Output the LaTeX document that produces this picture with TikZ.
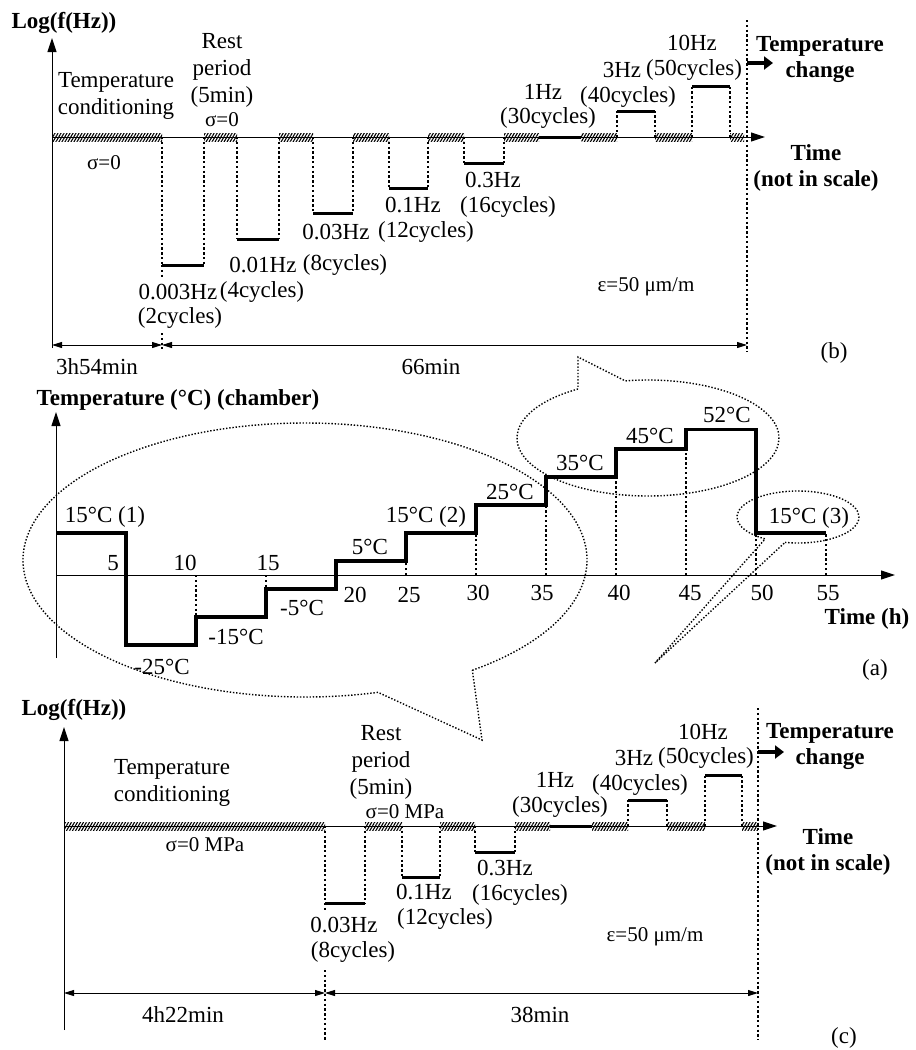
\documentclass[tikz,border=0pt]{standalone}
\usepackage{fontspec}
\setmainfont{Liberation Serif}
\usetikzlibrary{arrows.meta,patterns.meta}

\tikzset{
  lbl/.style={inner sep=0pt, font=\fontsize{23}{27}\selectfont, align=center},
  lblb/.style={lbl, font=\fontsize{23}{26}\selectfont\bfseries},
  lbls/.style={inner sep=0pt, font=\fontsize{21}{24}\selectfont},
  axisline/.style={line width=1pt, -{Triangle[length=14pt,width=9pt]}},
  dimline/.style={line width=0.9pt, {Triangle[length=10pt,width=6pt]}-{Triangle[length=10pt,width=6pt]}},
  dotside/.style={line width=2.4pt, dash pattern=on 2.4pt off 2.4pt},
  levelbar/.style={line width=3pt},
  stepline/.style={line width=3.2pt, line join=miter},
  hatchbar/.style={pattern={Lines[angle=60,distance=2.6pt,line width=1.1pt]}},
  bubble/.style={line width=1.4pt, dash pattern=on 1.4pt off 1.8pt},
  bigarrow/.style={line width=4.5pt, -{Triangle[length=9pt,width=13pt]}}
}

\begin{document}
\begin{tikzpicture}[x=1pt,y=-1pt]
\useasboundingbox (0,0) rectangle (916,1050);

% ===== (b) frequency sweep, first block =====
\draw[axisline] (52,348) -- (52,38);
\node[lblb] (b-ylab) at (64,23) {Log(f(Hz))};
\draw[axisline] (52,137) -- (765,137);
\foreach \a/\b in {52/162,204/237,279/313,353/389,428/464,504/539,581/617,655/692,730/744}
  \fill[hatchbar] (\a,133) rectangle (\b,141);
\draw[levelbar] (539,137) -- (581,137);
\foreach \a/\b/\c in {162/204/265,237/279/239,313/353/213,389/428/188,464/504/163,617/655/111,692/730/86}{
  \draw[dotside] (\a,137) -- (\a,\c);
  \draw[dotside] (\b,137) -- (\b,\c);
  \draw[levelbar] (\a,\c) -- (\b,\c);
}
\draw[dotside] (162,265) -- (162,277);
\draw[dotside] (162,333) -- (162,349);
\draw[dotside] (747,20) -- (747,352);
\draw[bigarrow] (747,63) -- (773,63);
% durations
\draw[dimline] (52,345) -- (162,345);
\draw[dimline] (162,345) -- (747,345);
\node[lbl] (b-cond) at (116,96) {Temperature\\conditioning};
\node[lbl] (b-rest) at (222,70) {Rest\\period\\(5min)};
\node[lbls] (b-sig1) at (222,120) {σ=0};
\node[lbls] (b-sig2) at (104,163) {σ=0};
\node[lbl] (b-f1) at (178,292) {0.003Hz};
\node[lbl] (b-n1) at (180,318) {(2cycles)};
\node[lbl] (b-f2) at (263,265) {0.01Hz};
\node[lbl] (b-n2) at (262,292) {(4cycles)};
\node[lbl] (b-f3) at (336,232) {0.03Hz};
\node[lbl] (b-n3) at (345,265) {(8cycles)};
\node[lbl] (b-f4) at (413,205) {0.1Hz};
\node[lbl] (b-n4) at (426,232) {(12cycles)};
\node[lbl] (b-f5) at (493,180) {0.3Hz};
\node[lbl] (b-n5) at (508,207) {(16cycles)};
\node[lbl] (b-f6) at (543,92) {1Hz};
\node[lbl] (b-n6) at (548,118) {(30cycles)};
\node[lbl] (b-f7) at (622,70) {3Hz};
\node[lbl] (b-n7) at (628,97) {(40cycles)};
\node[lbl] (b-f8) at (692,43) {10Hz};
\node[lbl] (b-n8) at (694,70) {(50cycles)};
\node[lblb] (b-tchg) at (820,60) {Temperature\\change};
\node[lblb] (b-time) at (816,168) {Time\\(not in scale)};
\node[lbls] (b-eps) at (646,287) {ε=50 μm/m};
\node[lbl] (b-d1) at (97,367) {3h54min};
\node[lbl] (b-d2) at (431,367) {66min};
\node[lbl] (b-tag) at (834,353) {(b)};

% ===== (a) chamber temperature steps =====
\node[lblb] (a-ylab) at (178,400) {Temperature (°C) (chamber)};
\draw[axisline] (56,658) -- (56,412);
\draw[axisline] (56,575) -- (895,575);
\begin{scope}[shift={(56,575)}, x=14pt, y=2.8pt]
  \draw[stepline] (0,15) -- (5,15) -- (5,-25) -- (10,-25) -- (10,-15) -- (15,-15)
    -- (15,-5) -- (20,-5) -- (20,5) -- (25,5) -- (25,15) -- (30,15) -- (30,25)
    -- (35,25) -- (35,35) -- (40,35) -- (40,45) -- (45,45) -- (45,52) -- (50,52)
    -- (50,15) -- (55,15);
  \foreach \t/\v in {10/-15,15/-5,25/5,30/15,35/25,40/35,45/45,50/15,55/15}
    \draw[dotside] (\t,0) -- (\t,\v);
\end{scope}
\node[lbl] (a-t5) at (113,563) {5};
\node[lbl] (a-t10) at (185,563) {10};
\node[lbl] (a-t15) at (268,563) {15};
\node[lbl] (a-t20) at (355,595) {20};
\node[lbl] (a-t25) at (409,595) {25};
\node[lbl] (a-t30) at (478,593) {30};
\node[lbl] (a-t35) at (542,593) {35};
\node[lbl] (a-t40) at (619,593) {40};
\node[lbl] (a-t45) at (690,593) {45};
\node[lbl] (a-t50) at (762,593) {50};
\node[lbl] (a-t55) at (828,593) {55};
\node[lbl] (a-s1) at (105,517) {15°C (1)};
\node[lbl] (a-s2) at (162,667) {-25°C};
\node[lbl] (a-s3) at (236,637) {-15°C};
\node[lbl] (a-s4) at (302,608) {-5°C};
\node[lbl] (a-s5) at (370,547) {5°C};
\node[lbl] (a-s6) at (426,517) {15°C (2)};
\node[lbl] (a-s7) at (510,492) {25°C};
\node[lbl] (a-s8) at (580,463) {35°C};
\node[lbl] (a-s9) at (650,436) {45°C};
\node[lbl] (a-s10) at (727,415) {52°C};
\node[lbl] (a-s11) at (809,518) {15°C (3)};
\node[lblb] (a-xlab) at (867,619) {Time (h)};
\node[lbl] (a-tag) at (875,670) {(a)};
% callout bubbles
\coordinate (bigc) at (305,560);
\draw[bubble] ([shift={(-53.6:282pt and 137pt)}]bigc) arc[start angle=-53.6, end angle=285, x radius=282pt, y radius=137pt] -- (482,740) -- cycle;
\coordinate (upc) at (648,438);
\draw[bubble] ([shift={(122.3:131pt and 58pt)}]upc) arc[start angle=122.3, end angle=460, x radius=131pt, y radius=58pt] -- (578,357) -- cycle;
\coordinate (smc) at (798,517);
\draw[bubble] ([shift={(257.7:61pt and 26pt)}]smc) arc[start angle=257.7, end angle=597.4, x radius=61pt, y radius=26pt] -- (655,663) -- cycle;

% ===== (c) frequency sweep, last block =====
\node[lblb] (c-ylab) at (74,710) {Log(f(Hz))};
\draw[axisline] (64,1030) -- (64,727);
\draw[axisline] (64,826) -- (777,826);
\foreach \a/\b in {64/325,365/402,440/475,515/550,592/628,667/705,742/758}
  \fill[hatchbar] (\a,822) rectangle (\b,830);
\draw[levelbar] (550,826) -- (592,826);
\foreach \a/\b/\c in {325/365/903,402/440/877,475/515/852,628/667/800,705/742/775}{
  \draw[dotside] (\a,826) -- (\a,\c);
  \draw[dotside] (\b,826) -- (\b,\c);
  \draw[levelbar] (\a,\c) -- (\b,\c);
}
\draw[dotside] (325,903) -- (325,910);
\draw[dotside] (325,970) -- (325,1040);
\draw[dotside] (758,708) -- (758,1040);
\draw[bigarrow] (758,752) -- (784,752);
% durations
\draw[dimline] (64,993) -- (325,993);
\draw[dimline] (325,993) -- (758,993);
\node[lbl] (c-cond) at (172,783) {Temperature\\conditioning};
\node[lbl] (c-rest) at (381,762) {Rest\\period\\(5min)};
\node[lbls] (c-sig1) at (405,812) {σ=0 MPa};
\node[lbls] (c-sig2) at (205,845) {σ=0 MPa};
\node[lbl] (c-f1) at (344,925) {0.03Hz};
\node[lbl] (c-n1) at (353,952) {(8cycles)};
\node[lbl] (c-f2) at (424,892) {0.1Hz};
\node[lbl] (c-n2) at (445,919) {(12cycles)};
\node[lbl] (c-f3) at (505,868) {0.3Hz};
\node[lbl] (c-n3) at (520,895) {(16cycles)};
\node[lbl] (c-f4) at (555,780) {1Hz};
\node[lbl] (c-n4) at (560,807) {(30cycles)};
\node[lbl] (c-f5) at (634,758) {3Hz};
\node[lbl] (c-n5) at (640,785) {(40cycles)};
\node[lbl] (c-f6) at (703,732) {10Hz};
\node[lbl] (c-n6) at (706,758) {(50cycles)};
\node[lblb] (c-tchg) at (830,746) {Temperature\\change};
\node[lblb] (c-time) at (828,852) {Time\\(not in scale)};
\node[lbls] (c-eps) at (655,937) {ε=50 μm/m};
\node[lbl] (c-d1) at (183,1015) {4h22min};
\node[lbl] (c-d2) at (540,1015) {38min};
\node[lbl] (c-tag) at (844,1038) {(c)};
\end{tikzpicture}
\end{document}
